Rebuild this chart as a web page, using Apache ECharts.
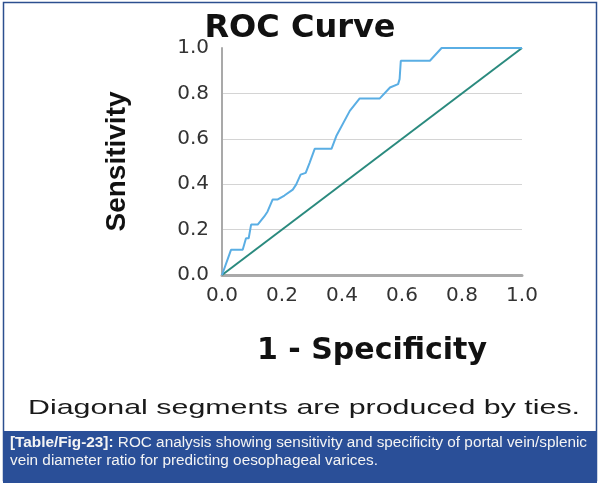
<!DOCTYPE html>
<html>
<head>
<meta charset="utf-8">
<title>ROC Curve</title>
<script src="https://cdn.jsdelivr.net/npm/echarts@6/dist/echarts.min.js"></script>
<style>
  html, body { margin: 0; padding: 0; background: #fff; }
  #chart { width: 600px; height: 483px; }
</style>
</head>
<body>
<div id="chart"></div>
<script>
// ROC curve (1 - specificity, sensitivity)
const fprValues = [0, 0.005, 0.030, 0.069, 0.080, 0.089, 0.097, 0.119, 0.141, 0.152, 0.169, 0.186,
  0.208, 0.236, 0.247, 0.262, 0.279, 0.292, 0.309, 0.365, 0.381, 0.426, 0.459, 0.526, 0.560,
  0.587, 0.592, 0.596, 0.693, 0.732, 1.0];
const tprValues = [0, 0, 0.111, 0.111, 0.162, 0.162, 0.222, 0.222, 0.258, 0.280, 0.333, 0.333,
  0.350, 0.376, 0.398, 0.442, 0.450, 0.494, 0.556, 0.556, 0.612, 0.723, 0.778, 0.778, 0.826,
  0.841, 0.863, 0.944, 0.944, 1.0, 1.0];
// reference line
const diagX = [0, 1];
const diagY = [0, 1];

const titleText = "ROC Curve";
const xName = "1 - Specificity";
const yName = "Sensitivity";
const footText = "Diagonal segments are produced by ties.";
const capLabel = "[Table/Fig-23]:";
const capLine1 = "ROC analysis showing sensitivity and specificity of portal vein/splenic";
const capLine2 = "vein diameter ratio for predicting oesophageal varices.";

// text width helper, used to stretch the texts the way the picture is stretched
const ctx = document.createElement("canvas").getContext("2d");
function textWidth(str, font) {
  ctx.font = font;
  return ctx.measureText(str).width;
}

const footFont = "21px 'Liberation Sans', Arial, sans-serif";
const footScale = 552 / textWidth(footText, footFont);

const capFont = "14px 'Liberation Sans', Arial, sans-serif";
const capBold = "bold 14px 'Liberation Sans', Arial, sans-serif";
const labelW = textWidth(capLabel + " ", capBold);
const capScale = 577 / (labelW + textWidth(capLine1, capFont));

let chart = echarts.init(document.getElementById("chart"));

chart.setOption({
  backgroundColor: "#fff",
  animation: false,
  title: {
    text: titleText,
    left: "center",
    top: 8,
    textStyle: { fontFamily: "DejaVu Sans", fontWeight: "bold", fontSize: 32, color: "#111" }
  },
  grid: { left: 222, right: 78, top: 48, bottom: 208 },
  xAxis: {
    type: "value",
    min: 0, max: 1, interval: 0.2,
    name: xName,
    nameLocation: "middle",
    nameGap: 61,
    nameTextStyle: { fontFamily: "DejaVu Sans", fontWeight: "bold", fontSize: 30, color: "#111" },
    axisLine: { show: true, lineStyle: { color: "#a9a9a9", width: 3 } },
    axisTick: { show: false },
    splitLine: { show: false },
    axisLabel: {
      margin: 11,
      fontFamily: "DejaVu Sans", fontSize: 20, color: "#333",
      formatter: v => v.toFixed(1)
    }
  },
  yAxis: {
    type: "value",
    min: 0, max: 1, interval: 0.2,
    name: yName,
    nameLocation: "middle",
    nameGap: 91,
    nameTextStyle: { fontFamily: "'Liberation Sans', Arial", fontWeight: "bold", fontSize: 28, color: "#111" },
    axisLine: { show: true, lineStyle: { color: "#a9a9a9", width: 2 } },
    axisTick: { show: false },
    splitLine: {
      show: true,
      lineStyle: { color: "#d4d4d4", width: 1 },
      showMaxLine: false, showMinLine: false
    },
    axisLabel: {
      margin: 13,
      fontFamily: "DejaVu Sans", fontSize: 20, color: "#333",
      formatter: v => v.toFixed(1)
    }
  },
  series: [
    {
      name: "Diagonal",
      type: "line",
      data: diagX.map((x, i) => [x, diagY[i]]),
      symbol: "none",
      lineStyle: { color: "#2a8a7e", width: 2 },
      z: 2
    },
    {
      name: "ROC",
      type: "line",
      data: fprValues.map((x, i) => [x, tprValues[i]]),
      symbol: "none",
      lineStyle: { color: "#5aaee4", width: 2 },
      z: 3
    }
  ],
  graphic: [
    // frame round the figure
    {
      type: "rect",
      shape: { x: 3.5, y: 2.5, width: 593, height: 478 },
      style: { fill: "none", stroke: "#2c4f8f", lineWidth: 1.5 },
      silent: true
    },
    {
      type: "text",
      x: 304, y: 408,
      scaleX: footScale,
      style: {
        text: footText, font: footFont, fill: "#1a1a1a",
        align: "center", verticalAlign: "middle"
      }
    },
    // caption box
    {
      type: "rect",
      shape: { x: 3, y: 431, width: 594, height: 52 },
      style: { fill: "#2a4f98" },
      silent: true
    },
    {
      type: "text",
      x: 10, y: 450,
      scaleX: capScale,
      style: { text: capLabel, font: capBold, fill: "#f4f4f4", verticalAlign: "bottom" }
    },
    {
      type: "text",
      x: 10 + labelW * capScale, y: 450,
      scaleX: capScale,
      style: { text: capLine1, font: capFont, fill: "#f4f4f4", verticalAlign: "bottom" }
    },
    {
      type: "text",
      x: 10, y: 468,
      scaleX: capScale,
      style: { text: capLine2, font: capFont, fill: "#f4f4f4", verticalAlign: "bottom" }
    }
  ]
});
</script>
</body>
</html>
